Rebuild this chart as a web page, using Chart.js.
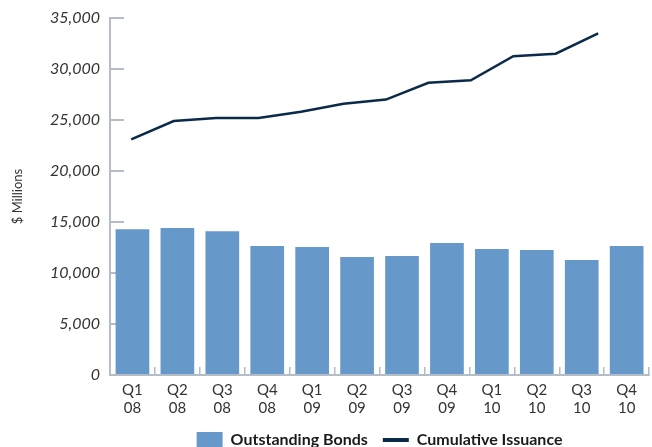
<!DOCTYPE html>
<html>
<head>
<meta charset="utf-8">
<title>Outstanding Bonds and Cumulative Issuance</title>
<script src="https://cdn.jsdelivr.net/npm/chart.js@4.4.1/dist/chart.umd.min.js"></script>
<style>
    html, body {
        margin: 0;
        padding: 0;
        height: 447px;
        overflow: hidden;
        background: #ffffff;
    }
    .chart-wrap {
        position: relative;
        width: 652px;
        height: 460px;
    }
</style>
</head>
<body>
<div class="chart-wrap">
    <canvas id="bondsChart"></canvas>
</div>
<script>
// Chart data
const quarters = ['Q1', 'Q2', 'Q3', 'Q4', 'Q1', 'Q2', 'Q3', 'Q4', 'Q1', 'Q2', 'Q3', 'Q4'];
const years = ['08', '08', '08', '08', '09', '09', '09', '09', '10', '10', '10', '10'];
const outstandingBonds = [14300, 14400, 14100, 12650, 12550, 11570, 11670, 12950, 12350, 12250, 11280, 12650];
const cumulativeIssuance = [23100, 24900, 25200, 25200, 25800, 26600, 27000, 28650, 28900, 31250, 31500, 33500];
const yTicks = [0, 5000, 10000, 15000, 20000, 25000, 30000, 35000];

const axisColor = '#b3bcc7';
const textColor = '#333333';

document.addEventListener('DOMContentLoaded', function() {
    initializeChart();
});

function initializeChart() {
    const ctx = document.getElementById('bondsChart').getContext('2d');

    new Chart(ctx, {
        type: 'bar',
        data: {
            labels: quarters.map((q, i) => [q, years[i]]),
            datasets: [{
                label: 'Outstanding Bonds',
                data: outstandingBonds,
                backgroundColor: '#6699c9',
                borderWidth: 0,
                grouped: false,
                categoryPercentage: 1,
                barPercentage: 0.75
            },
            {
                type: 'line',
                label: 'Cumulative Issuance',
                data: cumulativeIssuance.map((v, i) => ({ x: i, y: v })),
                xAxisID: 'x2',
                borderColor: '#0b2a4a',
                backgroundColor: '#0b2a4a',
                borderWidth: 2.5,
                pointRadius: 0,
                tension: 0
            }]
        },
        options: {
            responsive: true,
            maintainAspectRatio: false,
            animation: false,
            layout: {
                padding: { top: 18, right: 0, bottom: 2, left: 0 }
            },
            plugins: {
                tooltip: { enabled: false },
                legend: {
                    position: 'bottom',
                    fullSize: false,
                    labels: {
                        usePointStyle: true,
                        pointStyleWidth: 26,
                        padding: 15,
                        color: '#1a1a1a',
                        font: { family: 'Lato', size: 16, weight: 'bold' },
                        generateLabels: function(chart) {
                            const items = Chart.defaults.plugins.legend.labels.generateLabels(chart);
                            items.forEach(item => {
                                if (item.datasetIndex === 0) {
                                    item.pointStyle = 'rect';
                                    item.lineWidth = 0;
                                    item.fillStyle = '#6699c9';
                                } else {
                                    item.pointStyle = 'line';
                                    item.lineWidth = 4;
                                    item.strokeStyle = '#0b2a4a';
                                }
                            });
                            return items;
                        }
                    }
                }
            },
            scales: {
                x: {
                    grid: {
                        display: true,
                        drawOnChartArea: false,
                        tickLength: -8,
                        color: axisColor,
                        lineWidth: 1.5
                    },
                    border: { color: axisColor, width: 2 },
                    ticks: {
                        color: textColor,
                        padding: 15,
                        maxRotation: 0,
                        font: { family: 'Lato', size: 15, lineHeight: 1.15 }
                    },
                    afterFit: function(scale) {
                        scale.height = 42;
                    }
                },
                x2: {
                    type: 'linear',
                    display: false,
                    offset: false,
                    grid: { offset: false },
                    min: -0.5,
                    max: 12.2
                },
                y: {
                    min: 0,
                    max: 35000,
                    afterBuildTicks: function(scale) {
                        scale.ticks = yTicks.map(v => ({ value: v }));
                    },
                    grid: {
                        display: true,
                        drawOnChartArea: false,
                        tickLength: -14,
                        color: axisColor,
                        lineWidth: 2
                    },
                    border: { color: axisColor, width: 2 },
                    ticks: {
                        color: textColor,
                        padding: 24,
                        font: { family: 'Lato', size: 16, style: 'italic' },
                        callback: function(value) {
                            return value.toLocaleString('en-US');
                        }
                    },
                    title: {
                        display: true,
                        text: '$ Millions',
                        color: textColor,
                        padding: { top: 10, bottom: 0 },
                        font: { family: 'Lato', size: 13 }
                    },
                    afterFit: function(scale) {
                        scale.width = 110;
                        scale.paddingTop = 0;
                        scale.paddingBottom = 0;
                    }
                }
            }
        }
    });
}
</script>
</body>
</html>
